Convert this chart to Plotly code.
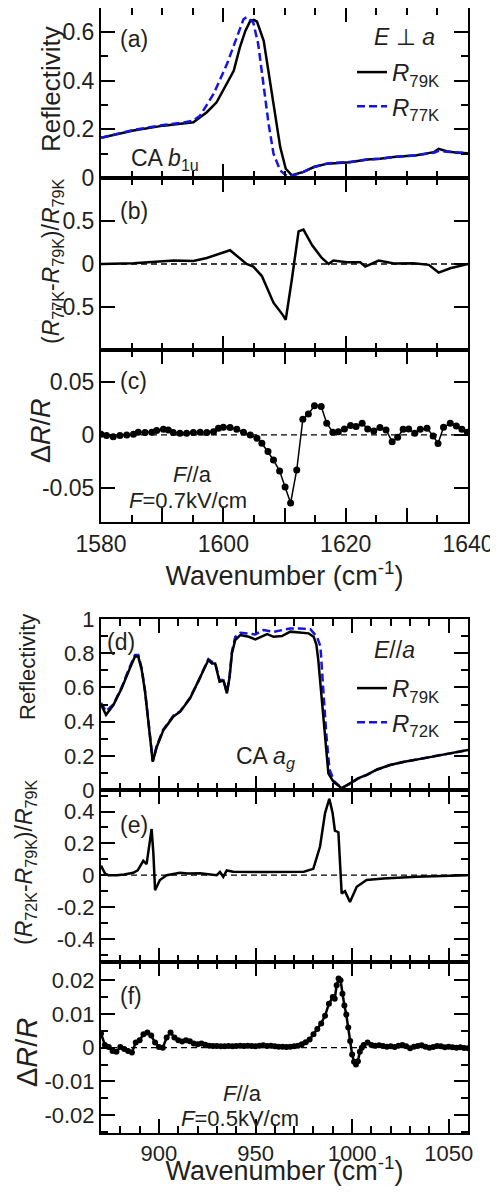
import plotly.graph_objects as go

# ---------------- data ----------------
# (a) reflectivity, E perp a
wn_a79 = [1580, 1585.3, 1590.2, 1592.9, 1595.1, 1597.3, 1598.9, 1601.7, 1602.7, 1603.6, 1604.4, 1605.0,
          1605.5, 1606.6, 1607.1, 1608.2, 1609.3, 1610.2, 1611.2, 1613.1, 1614.8, 1617, 1620.7, 1623.5,
          1625.6, 1627.8, 1631.6, 1634.4, 1635.2, 1636.5, 1638.2, 1640]
r79_a = [0.165, 0.195, 0.215, 0.222, 0.229, 0.27, 0.311, 0.44, 0.536, 0.604, 0.645, 0.649,
         0.642, 0.563, 0.48, 0.318, 0.127, 0.038, 0.011, 0.025, 0.045, 0.059, 0.065, 0.076,
         0.079, 0.086, 0.093, 0.106, 0.12, 0.11, 0.104, 0.102]
wn_a77 = [1580, 1585.3, 1590.2, 1593.0, 1595.1, 1596.2, 1598.4, 1600.6, 1602.2, 1603.3, 1603.8, 1604.9,
          1605.7, 1606.6, 1607.4, 1608.2, 1609.3, 1610.4, 1611.5, 1613.1, 1614.8, 1617, 1620.7, 1623.5,
          1625.6, 1627.8, 1631.6, 1634.4, 1635.2, 1636.5, 1638.2, 1640]
r77_a = [0.165, 0.197, 0.218, 0.226, 0.236, 0.256, 0.345, 0.468, 0.577, 0.652, 0.661, 0.638,
         0.55, 0.386, 0.222, 0.1, 0.031, 0.008, 0.011, 0.025, 0.045, 0.06, 0.066, 0.076,
         0.079, 0.086, 0.093, 0.104, 0.112, 0.108, 0.104, 0.102]

# (b) (R77K - R79K)/R79K
wn_b = [1580, 1585.3, 1591.9, 1595.1, 1597.3, 1601.1, 1603.8, 1604.9, 1606.3, 1608.2, 1609.8, 1610.2,
        1611.2, 1612.3, 1613.1, 1614.5, 1616.1, 1617.2, 1618.0, 1620.2, 1622.4, 1623.2, 1625.4, 1627.9,
        1631.1, 1633.6, 1635.2, 1637.1, 1640]
diff_b = [0, 0.01, 0.04, 0.035, 0.07, 0.16, 0.0, -0.03, -0.14, -0.45, -0.6, -0.65,
          -0.18, 0.38, 0.40, 0.22, 0.07, 0.0, 0.04, 0.02, 0.02, -0.03, 0.04, 0.005,
          0.01, -0.01, -0.1, -0.05, 0.0]

# (c) electroreflectance dR/R, F//a, 0.7 kV/cm
wn_c = [1580.0, 1580.9, 1582.0, 1583.1, 1584.2, 1585.3, 1586.1, 1587.2, 1588.3, 1589.1, 1590.2, 1591.0,
        1591.8, 1592.9, 1594.0, 1595.1, 1596.2, 1597.3, 1598.4, 1599.2, 1600.0, 1601.1, 1602.2, 1603.3,
        1604.4, 1605.5, 1606.3, 1607.3, 1608.2, 1609.2, 1610.1, 1611.0, 1612.0, 1613.0, 1613.9, 1614.9,
        1616.0, 1616.9, 1617.9, 1618.8, 1619.8, 1620.8, 1621.7, 1622.7, 1623.6, 1624.6, 1625.6, 1626.6,
        1627.6, 1628.5, 1629.4, 1630.3, 1631.3, 1632.2, 1633.3, 1634.3, 1635.1, 1636.0, 1637.1, 1638.1,
        1639.0, 1639.9]
dr_c = [0.0007, -0.0006, -0.0016, -0.0006, 0.0, 0.0007, 0.0025, 0.0022, 0.0025, 0.0041, 0.0053, 0.0047,
        0.0022, 0.0016, 0.0016, 0.0022, 0.0025, 0.0022, 0.0031, 0.0063, 0.0072, 0.0069, 0.0053, 0.0025,
        0.0, -0.0031, -0.0079, -0.0157, -0.0236, -0.034, -0.049, -0.064, -0.033, 0.0148, 0.0198, 0.0274,
        0.0268, 0.011, 0.0025, 0.0031, 0.0057, 0.0088, 0.0079, 0.011, 0.0057, 0.0038, 0.0069, 0.0047,
        -0.0063, -0.0022, 0.0053, 0.0057, 0.0016, 0.0053, 0.0063, -0.0009, -0.008, 0.0072, 0.011, 0.0085,
        0.0053, 0.0025]

# (d) reflectivity, E//a
wn_d79 = [870, 872.6, 876.4, 880.7, 884.9, 887.6, 889.3, 891.1, 892.8, 894.5, 896.8, 898.9, 902.3, 907.5,
          911, 916.1, 920.4, 923.9, 925.6, 927.4, 929.1, 931.4, 933.4, 935.2, 936.6, 937.8, 939.5, 942.1,
          946.5, 949.9, 952.5, 956, 959.4, 963.7, 968, 973.2, 977.5, 980.1, 981.5, 982.5, 984.2, 986,
          987.7, 990.3, 994.6, 998.9, 1003, 1007.5, 1013, 1019.6, 1027, 1036.9, 1048, 1060]
r79_d = [0.50, 0.44, 0.497, 0.595, 0.71, 0.78, 0.78, 0.70, 0.575, 0.41, 0.165, 0.253, 0.35, 0.43,
         0.458, 0.536, 0.633, 0.72, 0.76, 0.74, 0.74, 0.633, 0.64, 0.565, 0.663, 0.80, 0.877, 0.906,
         0.896, 0.881, 0.896, 0.912, 0.896, 0.90, 0.926, 0.922, 0.916, 0.896, 0.85, 0.76, 0.546, 0.273,
         0.098, 0.049, 0.01, 0.039, 0.068, 0.088, 0.12, 0.146, 0.165, 0.185, 0.21, 0.234]
wn_d72 = [870, 872.6, 876.4, 880.7, 884.9, 887.6, 889.3, 891.1, 892.8, 894.5, 896.8, 898.9, 902.3, 907.5,
          911, 916.1, 920.4, 923.9, 925.6, 927.4, 929.1, 931.4, 933.4, 935.2, 936.6, 937.8, 939.5, 942.1,
          946.5, 949.9, 954.2, 959.4, 963.7, 968, 973.2, 978.4, 981.8, 983.6, 985.0, 986.6, 988.3, 990.8,
          994.6, 998.9, 1003, 1007.5, 1013, 1019.6, 1027, 1036.9, 1048, 1060]
r72_d = [0.51, 0.46, 0.50, 0.60, 0.72, 0.79, 0.79, 0.71, 0.58, 0.42, 0.17, 0.26, 0.355, 0.435,
         0.46, 0.54, 0.635, 0.725, 0.765, 0.75, 0.745, 0.64, 0.645, 0.57, 0.67, 0.81, 0.895, 0.92,
         0.915, 0.91, 0.936, 0.925, 0.935, 0.945, 0.945, 0.94, 0.896, 0.84, 0.6, 0.33, 0.12, 0.05,
         0.012, 0.036, 0.066, 0.087, 0.12, 0.146, 0.165, 0.185, 0.21, 0.234]

# (e) (R72K - R79K)/R79K
wn_e = [870, 872.1, 873.8, 878.1, 882, 886.7, 889, 891.9, 893.6, 895.4, 896.2, 897.1, 898, 900.5, 904,
        910.9, 915, 921.3, 926, 929.9, 931.6, 933.3, 935.1, 938.5, 955.8, 975, 979.9, 983.4, 986, 988.2,
        989.9, 991.1, 992.9, 994.6, 996.3, 998.9, 1002.4, 1007.5, 1016.2, 1033.4, 1059.8]
diff_e = [0.06, 0.01, 0.0, 0.0, 0.005, 0.015, 0.03, 0.09, 0.07, 0.24, 0.29, 0.14, -0.094, -0.03, 0.0,
          0.015, 0.01, 0.012, 0.008, 0.0, 0.02, -0.01, 0.03, 0.022, 0.02, 0.022, 0.04, 0.18, 0.39, 0.48,
          0.39, 0.28, 0.27, -0.115, -0.10, -0.168, -0.073, -0.03, -0.02, -0.01, 0.0]

# (f) electroreflectance dR/R, F//a, 0.5 kV/cm
wn_f = [870, 872, 874, 876, 878, 880, 882, 884, 886, 888, 890, 892, 894, 896, 898, 900, 902, 904, 906,
        908, 910, 912, 914, 916, 918, 920, 922, 924, 926, 928, 930, 932, 934, 936, 938, 940, 942, 944,
        946, 948, 950, 952, 954, 956, 958, 960, 962, 964, 966, 968, 970, 972, 974, 976, 978, 980, 982,
        984, 986, 988, 990, 991, 992, 993, 994, 995, 996, 997, 998, 999, 1000, 1001, 1002, 1003, 1004,
        1005, 1006, 1008, 1010, 1012, 1014, 1016, 1018, 1020, 1022, 1024, 1026, 1028, 1030, 1032, 1034,
        1036, 1038, 1040, 1042, 1044, 1046, 1048, 1050, 1052, 1054, 1056, 1058, 1060]
dr_f = [0.0042, 0.0008, 0.0002, -0.0010, -0.0012, 0.0002, -0.0004, -0.0010, -0.0014, 0.0015, 0.0022,
        0.0040, 0.0045, 0.0036, 0.0015, 0.0002, 0.0, 0.0030, 0.0045, 0.0030, 0.0022, 0.0018, 0.0022,
        0.0019, 0.0012, 0.0010, 0.0012, 0.0009, 0.0006, 0.0005, 0.0005, 0.0004, 0.0004, 0.0005, 0.0004,
        0.0005, 0.0006, 0.0005, 0.0006, 0.0005, 0.0004, 0.0006, 0.0007, 0.0005, 0.0006, 0.0004, 0.0003,
        0.0003, 0.0002, 0.0003, 0.0004, 0.0006, 0.0010, 0.0016, 0.0024, 0.0040, 0.0055, 0.0072, 0.0095,
        0.0130, 0.0150, 0.0145, 0.0185, 0.0205, 0.0200, 0.0160, 0.0125, 0.0098, 0.0060, 0.0020, -0.0020,
        -0.0042, -0.0050, -0.0040, -0.0012, 0.0, 0.0008, 0.0015, 0.0008, 0.0006, 0.0007, 0.0005, 0.0003,
        0.0004, 0.0002, 0.0006, 0.0008, 0.0004, -0.0002, 0.0003, 0.0005, 0.0007, 0.0003, 0.0, 0.0002,
        0.0005, 0.0004, 0.0001, 0.0003, 0.0001, 0.0, 0.0001, -0.0001, -0.0002]

# tick labels
x_top_ticks = [1580, 1590, 1600, 1610, 1620, 1630, 1640]
x_top_text = ["1580", "", "1600", "", "1620", "", "1640"]
x_bot_ticks = [900, 950, 1000, 1050]
x_bot_text = ["900", "950", "1000", "1050"]
y_a_ticks, y_a_text = [0, 0.2, 0.4, 0.6], ["0", "0.2", "0.4", "0.6"]
y_b_ticks, y_b_text = [-0.5, 0, 0.5], ["-0.5", "0", "0.5"]
y_c_ticks, y_c_text = [-0.05, 0, 0.05], ["-0.05", "0", "0.05"]
y_d_ticks, y_d_text = [0, 0.2, 0.4, 0.6, 0.8, 1], ["0", "0.2", "0.4", "0.6", "0.8", "1"]
y_e_ticks, y_e_text = [-0.4, -0.2, 0, 0.2, 0.4], ["-0.4", "-0.2", "0", "0.2", "0.4"]
y_f_ticks, y_f_text = [-0.02, -0.01, 0, 0.01, 0.02], ["-0.02", "-0.01", "0", "0.01", "0.02"]

# ---------------- layout helpers ----------------
FONT = "Liberation Sans, Arial, sans-serif"
INK = "#231f20"
BLUE = "#1414e6"
PAGE = 8                      # the page body offsets the figure by 8px
W, H = 498 - PAGE, 1178
ML, MR, MT, MB = 93, 30, 0, 53
PW, PH = W - ML - MR, H - MT - MB


def fx(px):
    # screen pixel column -> paper fraction
    return (px - PAGE - ML) / PW


def fy(py):
    # screen pixel row -> paper fraction
    return (H - MB - (py - PAGE)) / PH


top_edges = [8, 178, 350, 522]
bot_edges = [619, 790, 962, 1133]


def xax(anchor, rng, vals, text, minor_dtick, minor_tick0, labels, tsize):
    return dict(anchor=anchor, domain=[0, 1], range=rng, tickmode="array", tickvals=vals, ticktext=text,
                showticklabels=labels, ticks="inside", ticklen=14, tickwidth=1.5, tickcolor="black",
                minor=dict(dtick=minor_dtick, tick0=minor_tick0, ticks="inside", ticklen=7, tickwidth=1.5,
                           tickcolor="black"),
                showline=True, linewidth=2, linecolor="black", mirror="allticks", showgrid=False,
                zeroline=False, tickfont=dict(family=FONT, size=tsize, color=INK))


def yax(anchor, dom, rng, vals, text, minor_dtick, tsize):
    d = dict(anchor=anchor, domain=dom, range=rng, tickmode="array", tickvals=vals, ticktext=text,
             ticks="inside", ticklen=14, tickwidth=1.5, tickcolor="black",
             showline=True, linewidth=2, linecolor="black", mirror="allticks", showgrid=False,
             zeroline=False, tickfont=dict(family=FONT, size=tsize, color=INK))
    if minor_dtick:
        d["minor"] = dict(dtick=minor_dtick, tick0=0, ticks="inside", ticklen=7, tickwidth=1.5,
                          tickcolor="black")
    return d


fig = go.Figure()

solid = dict(color="black", width=2.5)
dashed = dict(color=BLUE, width=2.5, dash="8px,4px")

fig.add_trace(go.Scatter(x=wn_a79, y=r79_a, mode="lines", line=solid, name="<i>R</i><sub>79K</sub>",
                         xaxis="x", yaxis="y", legend="legend"))
fig.add_trace(go.Scatter(x=wn_a77, y=r77_a, mode="lines", line=dashed, name="<i>R</i><sub>77K</sub>",
                         xaxis="x", yaxis="y", legend="legend"))
fig.add_trace(go.Scatter(x=wn_b, y=diff_b, mode="lines", line=solid, showlegend=False,
                         xaxis="x2", yaxis="y2"))
fig.add_trace(go.Scatter(x=wn_c, y=dr_c, mode="lines+markers", line=dict(color="black", width=1.5),
                         marker=dict(color="black", size=7), showlegend=False, xaxis="x3", yaxis="y3"))
fig.add_trace(go.Scatter(x=wn_d72, y=r72_d, mode="lines", line=dashed, name="<i>R</i><sub>72K</sub>",
                         xaxis="x4", yaxis="y4", legend="legend2"))
fig.add_trace(go.Scatter(x=wn_d79, y=r79_d, mode="lines", line=solid, name="<i>R</i><sub>79K</sub>",
                         xaxis="x4", yaxis="y4", legend="legend2"))
fig.add_trace(go.Scatter(x=wn_e, y=diff_e, mode="lines", line=solid, showlegend=False,
                         xaxis="x5", yaxis="y5"))
fig.add_trace(go.Scatter(x=wn_f, y=dr_f, mode="lines+markers", line=dict(color="black", width=2.5),
                         marker=dict(color="black", size=6), showlegend=False, xaxis="x6", yaxis="y6"))

top_rng = [1580, 1640]
bot_rng = [870, 1060]

# dashed zero lines
for k in ["2", "3", "5", "6"]:
    rng = top_rng if k in ("2", "3") else bot_rng
    fig.add_shape(type="line", xref="x" + k, yref="y" + k, x0=rng[0], x1=rng[1], y0=0, y1=0,
                  line=dict(color="black", width=1.3, dash="6px,4px"))

xtitle = dict(text="Wavenumber (cm<sup>-1</sup>)", standoff=10, font=dict(family=FONT, size=27, color=INK))

fig.update_layout(
    xaxis=xax("y", top_rng, x_top_ticks, x_top_text, 5, 1580, False, 23),
    xaxis2=xax("y2", top_rng, x_top_ticks, x_top_text, 5, 1580, False, 23),
    xaxis3=dict(xax("y3", top_rng, x_top_ticks, x_top_text, 5, 1580, True, 23), title=xtitle),
    xaxis4=xax("y4", bot_rng, x_bot_ticks, x_bot_text, 10, 870, False, 22),
    xaxis5=xax("y5", bot_rng, x_bot_ticks, x_bot_text, 10, 870, False, 22),
    xaxis6=dict(xax("y6", bot_rng, x_bot_ticks, x_bot_text, 10, 870, True, 22), title=xtitle),
    yaxis=yax("x", [fy(top_edges[1]), fy(top_edges[0])], [0, 0.698], y_a_ticks, y_a_text, 0.1, 23),
    yaxis2=yax("x2", [fy(top_edges[2]), fy(top_edges[1])], [-1, 1], y_b_ticks, y_b_text, None, 23),
    yaxis3=yax("x3", [fy(top_edges[3]), fy(top_edges[2])], [-0.082, 0.080], y_c_ticks, y_c_text, None, 23),
    yaxis4=yax("x4", [fy(bot_edges[1]), fy(bot_edges[0])], [0, 1], y_d_ticks, y_d_text, 0.1, 22),
    yaxis5=yax("x5", [fy(bot_edges[2]), fy(bot_edges[1])], [-0.545, 0.535], y_e_ticks, y_e_text, 0.1, 22),
    yaxis6=yax("x6", [fy(bot_edges[3]), fy(bot_edges[2])], [-0.0253, 0.0254], y_f_ticks, y_f_text, 0.005, 22),
)

# y titles placed as rotated text
ytitles = [
    ("Reflectivity", 51, 89, 26),
    ("(<i>R</i><sub>77K</sub>-<i>R</i><sub>79K</sub>)/<i>R</i><sub>79K</sub>", 53, 262, 23),
    ("Δ<i>R</i>/<i>R</i>", 41, 431, 27),
    ("Reflectivity", 27, 667, 22),
    ("(<i>R</i><sub>72K</sub>-<i>R</i><sub>79K</sub>)/<i>R</i><sub>79K</sub>", 25, 863, 23),
    ("Δ<i>R</i>/<i>R</i>", 27, 1053, 29),
]
for txt, x, y, s in ytitles:
    fig.add_annotation(text=txt, x=fx(x), y=fy(y), xref="paper", yref="paper", textangle=-90,
                       showarrow=False, xanchor="center", yanchor="middle",
                       font=dict(family=FONT, size=s, color=INK))

labels = [
    ("(a)", 118, 39, 23), ("<i>E</i> ⊥ <i>a</i>", 372, 37, 23), ("CA <i>b</i><sub>1u</sub>", 129, 160, 23),
    ("(b)", 118, 211, 23), ("(c)", 118, 381, 23), ("<i>F</i>//a", 171, 474, 22),
    ("<i>F</i>=0.7kV/cm", 127, 500, 22),
    ("(d)", 105, 642, 23), ("<i>E</i>//<i>a</i>", 372, 650, 23), ("CA <i>a</i><sub><i>g</i></sub>", 234, 757, 23),
    ("(e)", 118, 825, 23), ("(f)", 118, 996, 23), ("<i>F</i>//a", 221, 1093, 22),
    ("<i>F</i>=0.5kV/cm", 179, 1118, 22),
]
for txt, x, y, s in labels:
    fig.add_annotation(text=txt, x=fx(x), y=fy(y), xref="paper", yref="paper", showarrow=False,
                       xanchor="left", yanchor="middle", font=dict(family=FONT, size=s, color=INK))

leg = dict(font=dict(family=FONT, size=24, color=INK), bgcolor="rgba(0,0,0,0)", xanchor="left",
           yanchor="top", tracegroupgap=0, itemwidth=30)
fig.update_layout(
    legend=dict(leg, x=fx(352), y=fy(50)),
    legend2=dict(leg, x=fx(352), y=fy(666), traceorder="reversed"),
    width=W, height=H, margin=dict(l=ML, r=MR, t=MT, b=MB, autoexpand=False),
    plot_bgcolor="white", paper_bgcolor="white", showlegend=True,
    font=dict(family=FONT, color=INK),
)

fig.write_html("out.html")
